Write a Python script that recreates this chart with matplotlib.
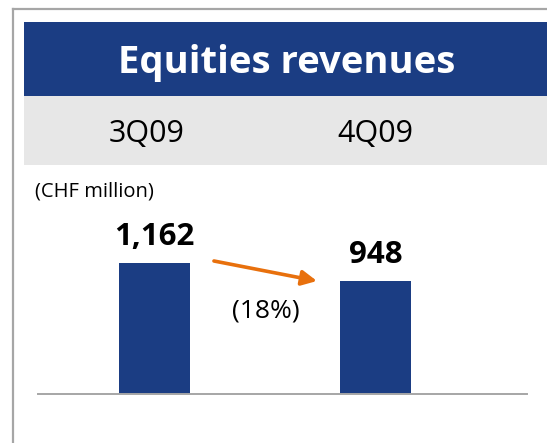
import matplotlib
matplotlib.use("Agg")
import matplotlib.pyplot as plt
from matplotlib.patches import Rectangle
from matplotlib.lines import Line2D
from matplotlib.transforms import blended_transform_factory

# ---- data ----
categories = ["3Q09", "4Q09"]
values = [1162, 948]
value_labels = ["1,162", "948"]
change_label = "(18%)"
title = "Equities revenues"
unit_label = "(CHF million)"

# ---- style ----
W, H = 547, 443
DPI = 100
BLUE = "#1b3d83"
BAND = "#e7e7e7"
ORANGE = "#e8700d"
GRID = "#a6a6a6"
FONT = "Open Sans"

plt.rcParams["font.family"] = [FONT, "DejaVu Sans"]

fig = plt.figure(figsize=(W / DPI, H / DPI), dpi=DPI)
fig.patch.set_facecolor("white")


def fx(px):
    return px / W


def fy(py):
    return 1 - py / H


# outer frame lines (left and top)
fig.add_artist(Line2D([fx(13), fx(13)], [fy(9), 0], color=GRID, lw=1.6))
fig.add_artist(Line2D([fx(13), 1], [fy(9), fy(9)], color=GRID, lw=1.6))

# header band
fig.add_artist(Rectangle((fx(24), fy(96)), 1 - fx(24), (96 - 22) / H,
                         transform=fig.transFigure, facecolor=BLUE,
                         edgecolor="none"))
fig.add_artist(Rectangle((fx(24), fy(165)), 1 - fx(24), (165 - 96) / H,
                         transform=fig.transFigure, facecolor=BAND,
                         edgecolor="none"))
fig.text(fx(287), fy(73), title, color="white", fontsize=27.5,
         fontweight="bold", ha="center", va="baseline")
fig.text(fx(35), fy(196), unit_label, color="black", fontsize=14.5,
         ha="left", va="baseline")

# bar axes (value axis baseline sits below zero in the reference)
base = -395
ymax = 1900
scale = 131.0 / (values[0] - base)  # px per unit
ax_h = (ymax - base) * scale
left_px, right_px, base_px = 38, 527, 393.5
ax = fig.add_axes([fx(left_px), (H - base_px) / H, (right_px - left_px) / W, ax_h / H])
ax.set_zorder(3)
ax.set_facecolor("none")
x = list(range(len(categories)))
step = 221.0
ax.set_xlim(-(154.5 - left_px) / step, 1 + (right_px - 375.5) / step)
ax.set_ylim(base, ymax)
ax.bar(x, [v - base for v in values], bottom=base, width=71 / step,
       color=BLUE, zorder=2)
ax.axhline(base, color=GRID, lw=1.4, zorder=3, clip_on=False)
for s in ax.spines.values():
    s.set_visible(False)
ax.set_xticks([])
ax.set_yticks([])

for xi, v, lab in zip(x, values, value_labels):
    ax.annotate(lab, (xi, v), xytext=(0, 12.8), textcoords="offset points",
                ha="center", va="baseline", fontsize=22.5, fontweight="bold",
                color="black")

# category labels in the grey band
tr = blended_transform_factory(ax.transData, fig.transFigure)
cat_offsets = [-0.034, 0.0]
for xi, c, off in zip(x, categories, cat_offsets):
    ax.text(xi + off, fy(142), c, transform=tr, ha="center", va="baseline",
            fontsize=22, color="black")

# change arrow
ax.annotate("", xy=(0.735, 942), xytext=(0.269, 1180),
            arrowprops=dict(arrowstyle="-|>,head_length=0.9,head_width=0.45",
                            color=ORANGE, lw=2.6, shrinkA=0, shrinkB=0))
ax.text(0.505, 585, change_label, ha="center", va="center", fontsize=19,
        color="black")

fig.savefig("out.png", dpi=DPI)
